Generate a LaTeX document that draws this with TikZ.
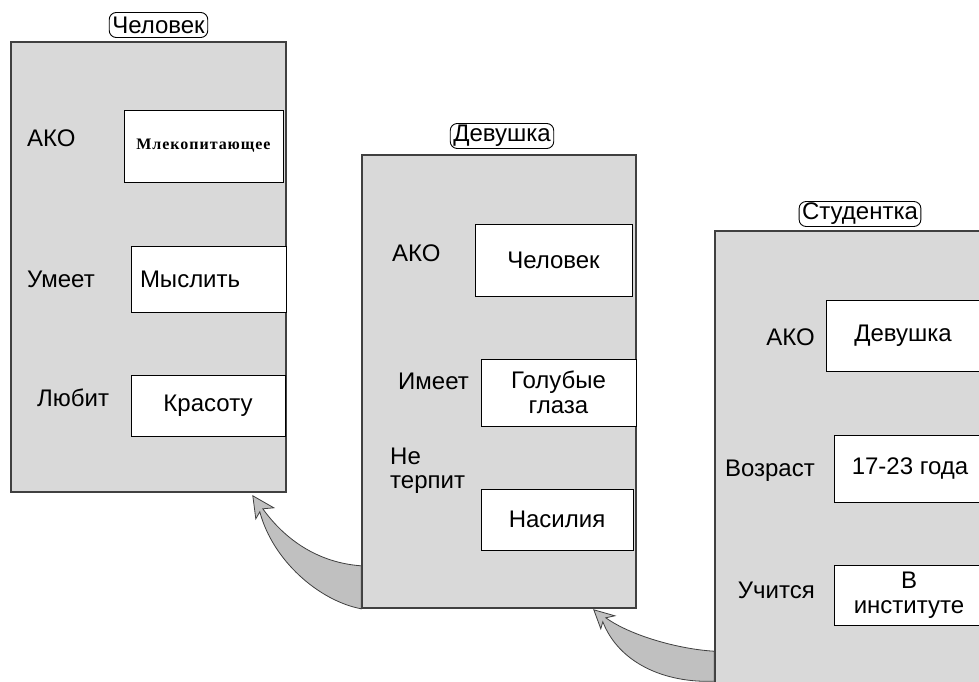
\documentclass[tikz,border=0pt]{standalone}
\usepackage{fontspec}
\setmainfont{Liberation Sans}
\newfontfamily\slotserif[LetterSpace=6]{Liberation Serif}
\usetikzlibrary{calc}
\definecolor{framefill}{HTML}{D9D9D9}
\definecolor{frameline}{HTML}{404040}
\definecolor{wedgefill}{HTML}{C0C0C0}
\tikzset{
  frame/.style={draw=frameline, line width=1.6pt, fill=framefill, rectangle, inner sep=0pt},
  title/.style={draw=black, line width=0.9pt, fill=white, rounded corners=7pt,
    inner xsep=3pt, inner ysep=1pt, minimum height=25pt, font=\fontsize{24}{26}\selectfont},
  valbox/.style={draw=black, line width=0.9pt, fill=white, inner sep=0pt,
    font=\fontsize{24}{25}\selectfont, align=center},
  slot/.style={font=\fontsize{24}{24}\selectfont, inner sep=0pt, align=left},
  inherit/.style={draw=frameline, line width=0.8pt, fill=wedgefill, line join=miter},
}
\begin{document}
\begin{tikzpicture}[x=1pt,y=-1pt]
\useasboundingbox (0,0) rectangle (979,682);
\clip (0,0) rectangle (979,682);
\fill[white] (0,0) rectangle (979,682);

% frames
\node[frame, minimum width=275pt, minimum height=450pt] (f1) at (148.5,267) {};
\node[frame, minimum width=274pt, minimum height=453pt] (f2) at (499,381.5) {};
\node[frame, minimum width=274pt, minimum height=453pt] (f3) at (852,457.5) {};

% frame names
\node[title] (n1) at (158.5,25) {Человек};
\node[title] (n2) at (502,136) {Девушка};
\node[title] (n3) at (860,214) {Студентка};

% frame "Человек"
\node[slot, anchor=west] (s11) at (27,138) {АКО};
\node[slot, anchor=west] (s12) at (27,279) {Умеет};
\node[slot, anchor=west] (s13) at (37,398) {Любит};
\node[valbox, minimum width=159pt, minimum height=72pt] (v11) at (203.5,146)
  {\slotserif\bfseries\fontsize{16}{18}\selectfont Млекопитающее};
\node[valbox, minimum width=155pt, minimum height=66pt, inner xsep=9pt,
  text width=137pt, align=left] (v12) at (208.5,279) {Мыслить};
\node[valbox, minimum width=154pt, minimum height=61pt] (v13) at (208,405.5) {Красоту};

% frame "Девушка"
\node[slot, anchor=west] (s21) at (392,253) {АКО};
\node[slot, anchor=west] (s22) at (398,381) {Имеет};
\node[slot, anchor=west] (s23) at (390,471) {Не\\терпит};
\node[valbox, minimum width=157pt, minimum height=72pt] (v21) at (553.5,260) {Человек};
\node[valbox, minimum width=155pt, minimum height=67pt] (v22) at (558.5,392.5) {Голубые\\глаза};
\node[valbox, minimum width=152pt, minimum height=61pt] (v23) at (557,519.5) {Насилия};

% frame "Студентка"
\node[slot, anchor=east] (s31) at (815,337) {АКО};
\node[slot, anchor=east] (s32) at (815,471) {Возраст};
\node[slot, anchor=east] (s33) at (815,590) {Учится};
\node[valbox, minimum width=154pt, minimum height=71pt] (v31) at (903,335.5) {Девушка};
\node[valbox, minimum width=152pt, minimum height=67pt] (v32) at (910,468.5) {17-23 года};
\node[valbox, minimum width=150pt, minimum height=60pt] (v33) at (909,595) {В\\институте};

% inheritance arrow: Девушка -> Человек
\coordinate (tip1) at ($(f1.south east)+(-34,3)$);
\coordinate (root1) at ($(f2.south west)+(0,-43)$);
\path[inherit] (root1) .. controls +(-42,-3) and +(23,32) .. ($(tip1)+(10,13)$)
  -- ($(tip1)+(21,12)$) -- (tip1) -- ($(tip1)+(3,23)$) -- ($(tip1)+(7,16)$)
  .. controls +(13,49) and +(-42,-8) .. (f2.south west) -- cycle;

% inheritance arrow: Студентка -> Девушка
\coordinate (tip2) at ($(f2.south east)+(-43,1)$);
\coordinate (root2) at ($(f3.north west)+(0,421)$);
\coordinate (root2b) at ($(f3.north west)+(0,451)$);
\path[inherit] (root2) .. controls +(-35,-2) and +(25,18) .. ($(tip2)+(12,8)$)
  -- ($(tip2)+(21,6)$) -- (tip2) -- ($(tip2)+(7,19)$) -- ($(tip2)+(9,12)$)
  .. controls +(16,41) and +(-50,2) .. (root2b) -- cycle;
\end{tikzpicture}
\end{document}
